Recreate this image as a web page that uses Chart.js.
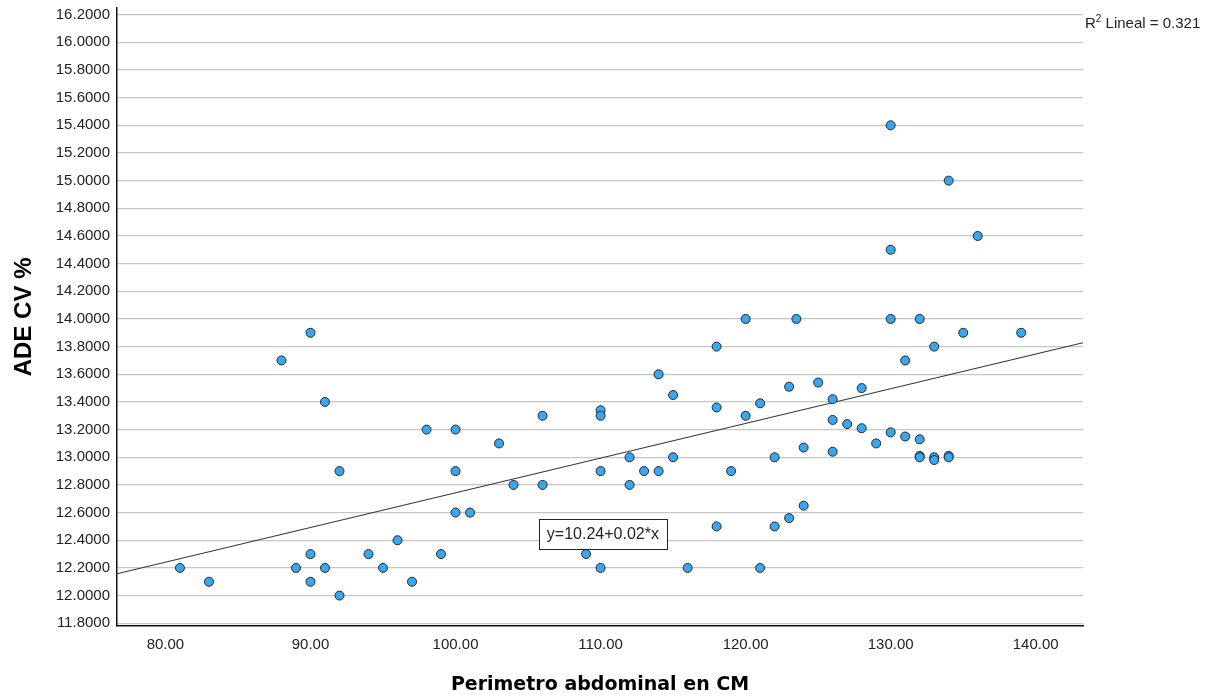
<!DOCTYPE html>
<html>
<head>
<meta charset="utf-8">
<script src="https://cdn.jsdelivr.net/npm/chart.js@4.4.0/dist/chart.umd.min.js"></script>
<style>
  html, body { margin: 0; padding: 0; background: #fff; }
  #wrap { width: 1212px; height: 700px; }
</style>
</head>
<body>
<div id="wrap"><canvas id="scatterChart" width="1212" height="700"></canvas></div>
<script>
// Datos: perimetro abdominal (cm) vs ADE CV %
const perimetro = [
  81, 83, 88, 89, 90, 90, 90, 91, 91, 92, 92, 94, 95, 96, 97, 98, 99, 100, 100, 100,
  101, 103, 104, 106, 106, 109, 110, 110, 110, 110, 112, 112, 113, 114, 114, 115, 115, 116, 118, 118,
  118, 119, 120, 120, 121, 121, 122, 122, 123, 123, 123.5, 124, 124, 125, 126, 126, 126, 127, 128, 128,
  129, 130, 130, 130, 130, 131, 131, 132, 132, 132, 132, 133, 133, 133, 134, 134, 134, 135, 136, 139
];
const adeCv = [
  12.2, 12.1, 13.7, 12.2, 13.9, 12.3, 12.1, 13.4, 12.2, 12.9, 12.0, 12.3, 12.2, 12.4, 12.1, 13.2, 12.3, 13.2, 12.9, 12.6,
  12.6, 13.1, 12.8, 13.3, 12.8, 12.3, 13.34, 13.3, 12.9, 12.2, 13.0, 12.8, 12.9, 13.6, 12.9, 13.45, 13.0, 12.2, 13.8, 13.36,
  12.5, 12.9, 14.0, 13.3, 13.39, 12.2, 13.0, 12.5, 13.51, 12.56, 14.0, 13.07, 12.65, 13.54, 13.42, 13.27, 13.04, 13.24, 13.5, 13.21,
  13.1, 15.4, 14.5, 14.0, 13.18, 13.7, 13.15, 14.0, 13.13, 13.01, 13.0, 13.8, 13.0, 12.98, 15.0, 13.01, 13.0, 13.9, 14.6, 13.9
];
const xTicks = [80, 90, 100, 110, 120, 130, 140];
const yTicks = [11.8, 12.0, 12.2, 12.4, 12.6, 12.8, 13.0, 13.2, 13.4, 13.6, 13.8, 14.0,
  14.2, 14.4, 14.6, 14.8, 15.0, 15.2, 15.4, 15.6, 15.8, 16.0, 16.2];

// recta de ajuste
const fitIntercept = 10.235;
const fitSlope = 0.02508;
const fitLabel = 'y=10.24+0.02*x';
const r2Value = 'Lineal = 0.321';

const xMin = 76.66, xMax = 143.26;
const yMin = 11.78, yMax = 16.25;
const fitLabelX = 110.16, fitLabelY = 12.445;

const points = perimetro.map((x, i) => ({ x: x, y: adeCv[i] }));
const fitLine = [xMin, xMax].map(x => ({ x: x, y: fitIntercept + fitSlope * x }));

const textColor = '#222';
const fontFamily = '"Liberation Sans", Arial, sans-serif';

// Texto: ecuacion y R2
const annotations = {
  id: 'annotations',
  afterDatasetsDraw(chart) {
    const { ctx, chartArea, scales } = chart;
    ctx.save();

    ctx.font = '16px ' + fontFamily;
    const w = Math.round(ctx.measureText(fitLabel).width + 16);
    const h = 30;
    const cx = scales.x.getPixelForValue(fitLabelX);
    const cy = scales.y.getPixelForValue(fitLabelY);
    const bx = Math.round(cx - w / 2) + 0.5;
    const by = Math.round(cy - h / 2) + 0.5;
    ctx.fillStyle = '#fff';
    ctx.fillRect(bx, by, w, h);
    ctx.strokeStyle = '#222';
    ctx.lineWidth = 1;
    ctx.strokeRect(bx, by, w, h);
    ctx.fillStyle = textColor;
    ctx.textAlign = 'center';
    ctx.textBaseline = 'middle';
    ctx.fillText(fitLabel, cx, cy + 1);

    // R2 Lineal
    const base = scales.y.getPixelForValue(yTicks[yTicks.length - 1]) + 13;
    let x = chartArea.right + 2;
    ctx.textAlign = 'left';
    ctx.textBaseline = 'alphabetic';
    ctx.font = '15px ' + fontFamily;
    ctx.fillText('R', x, base);
    x += ctx.measureText('R').width;
    ctx.font = '10px ' + fontFamily;
    ctx.fillText('2', x, base - 6);
    x += ctx.measureText('2').width;
    ctx.font = '15px ' + fontFamily;
    ctx.fillText(' ' + r2Value, x, base);

    ctx.restore();
  }
};

const ctx = document.getElementById('scatterChart').getContext('2d');
new Chart(ctx, {
  type: 'scatter',
  data: {
    datasets: [
      {
        type: 'scatter',
        data: points,
        backgroundColor: '#3aa6ee',
        borderColor: '#1d2833',
        borderWidth: 1,
        pointRadius: 4.5,
        order: 1
      },
      {
        type: 'line',
        data: fitLine,
        borderColor: '#333',
        borderWidth: 1.2,
        pointRadius: 0,
        fill: false,
        order: 2
      }
    ]
  },
  options: {
    responsive: false,
    animation: false,
    layout: { padding: { top: 7, right: 129, left: 0, bottom: 0 } },
    plugins: {
      legend: { display: false },
      tooltip: { enabled: false }
    },
    scales: {
      x: {
        type: 'linear',
        min: xMin,
        max: xMax,
        afterBuildTicks: scale => { scale.ticks = xTicks.map(v => ({ value: v })); },
        afterFit: scale => { scale.height = 74; },
        grid: { display: false, drawTicks: false },
        border: { display: true, color: '#111', width: 1.5 },
        ticks: {
          padding: 10,
          color: textColor,
          font: { family: fontFamily, size: 15 },
          maxRotation: 0,
          callback: v => v.toFixed(2)
        },
        title: {
          display: true,
          text: 'Perimetro abdominal en CM',
          color: '#000',
          font: { family: '"DejaVu Sans", sans-serif', size: 19, weight: 'bold' },
          padding: { top: 0, bottom: 4 }
        }
      },
      y: {
        type: 'linear',
        min: yMin,
        max: yMax,
        afterBuildTicks: scale => { scale.ticks = yTicks.map(v => ({ value: v })); },
        afterFit: scale => { scale.width = 117; },
        grid: { color: '#c6c6c6', lineWidth: 1.2, drawTicks: false },
        border: { display: true, color: '#111', width: 1.5 },
        ticks: {
          padding: 7,
          color: textColor,
          font: { family: fontFamily, size: 15, lineHeight: 0.1 },
          callback: v => v.toFixed(4)
        },
        title: {
          display: true,
          text: 'ADE CV %',
          color: '#000',
          font: { family: fontFamily, size: 24, weight: 'bold' },
          padding: { top: 10, bottom: 0 }
        }
      }
    }
  },
  plugins: [annotations]
});
</script>
</body>
</html>
